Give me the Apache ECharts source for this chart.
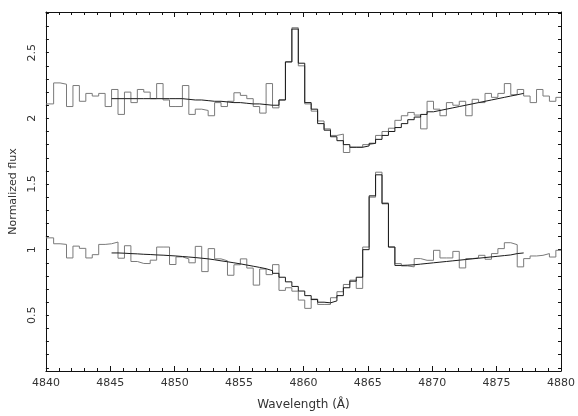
<!DOCTYPE html>
<html>
<head>
<meta charset="utf-8">
<script src="https://cdn.jsdelivr.net/npm/echarts@6/dist/echarts.min.js"></script>
<style>
html,body{margin:0;padding:0;background:#fff;}
#chart{width:578px;height:416px;}
</style>
</head>
<body>
<div id="chart"></div>
<script>
// Bin left edges (Å); last entry is the right end of the last bin
var wavelength = [4840.0,4840.6,4841.1,4841.6,4842.1,4842.6,4843.1,4843.6,4844.1,4844.6,
  4845.1,4845.6,4846.1,4846.6,4847.1,4847.6,4848.1,4848.6,4849.1,4849.6,
  4850.1,4850.6,4851.1,4851.6,4852.1,4852.6,4853.1,4853.6,4854.1,4854.6,
  4855.1,4855.6,4856.1,4856.6,4857.1,4857.6,4858.1,4858.6,4859.1,4859.6,
  4860.1,4860.6,4861.1,4861.6,4862.1,4862.6,4863.1,4863.6,4864.1,4864.6,
  4865.1,4865.6,4866.1,4866.6,4867.1,4867.6,4868.1,4868.6,4869.1,4869.6,
  4870.1,4870.6,4871.1,4871.6,4872.1,4872.6,4873.1,4873.6,4874.1,4874.6,
  4875.1,4875.6,4876.1,4876.6,4877.1,4877.6,4878.1,4878.6,4879.1,4879.6,
  4880.0];

// Upper spectrum (observed, histogram)
var upperFlux = [2.11,2.27,2.26,2.09,2.25,2.13,2.19,2.17,2.19,2.09,
  2.22,2.03,2.20,2.12,2.22,2.20,2.15,2.265,2.14,2.09,
  2.09,2.25,2.03,2.07,2.06,2.02,2.12,2.09,2.13,2.195,
  2.175,2.15,2.09,2.04,2.265,2.08,2.14,2.43,2.69,2.40,
  2.11,2.055,1.98,1.92,1.87,1.88,1.74,1.78,1.78,1.80,
  1.81,1.87,1.90,1.925,1.985,2.02,2.045,2.025,1.92,2.13,
  2.07,2.02,2.12,2.10,2.13,2.02,2.145,2.12,2.19,2.16,
  2.19,2.265,2.18,2.22,2.17,2.12,2.22,2.17,2.13,2.16];

// Lower spectrum (observed, histogram)
var lowerFlux = [1.09,1.045,1.04,0.937,1.027,1.01,0.937,0.962,1.04,1.045,
  1.058,0.935,1.03,0.91,0.895,0.894,0.92,1.02,1.02,0.887,
  0.945,0.93,0.90,1.025,0.833,1.008,0.93,0.915,0.805,0.885,
  0.93,0.86,0.73,0.853,0.81,0.886,0.69,0.71,0.684,0.616,
  0.553,0.624,0.583,0.583,0.634,0.68,0.735,0.768,0.705,1.02,
  1.40,1.59,1.356,1.02,0.894,0.876,0.869,0.932,0.919,0.919,
  0.995,0.937,0.937,0.987,0.861,0.932,0.937,0.957,0.927,0.97,
  1.008,1.053,1.038,0.869,0.932,0.952,0.957,0.97,0.944,0.995];

// Model fits, covering bins 10..73
var modelFirstBin = 10;
var upperModel = [2.15,2.15,2.15,2.15,2.15,2.15,2.15,2.15,2.15,2.15,
  2.15,2.145,2.14,2.14,2.135,2.13,2.13,2.125,2.12,2.12,
  2.115,2.11,2.11,2.105,2.10,2.10,
  2.14,2.43,2.68,2.42,2.12,
  2.07,1.96,1.91,1.86,1.83,1.80,1.78,1.78,1.79,
  1.81,1.84,1.87,1.90,1.93,1.96,1.99,2.01,2.03,2.05,
  2.06,2.07,2.08,2.09,2.10,2.11,2.12,2.13,2.14,2.15,
  2.16,2.17,2.18,2.19];
var lowerModel = [0.975,0.973,0.97,0.968,0.965,0.963,0.96,0.958,0.955,0.952,
  0.948,0.944,0.94,0.935,0.93,0.923,0.915,0.908,0.90,0.892,
  0.883,0.874,0.865,0.855,0.84,0.82,
  0.79,0.755,0.72,0.685,0.65,
  0.62,0.60,0.595,0.61,0.65,0.71,0.76,0.79,
  1.0,1.41,1.57,1.35,1.02,
  0.88,0.882,0.885,0.89,0.895,0.90,0.905,0.91,0.915,0.92,
  0.925,0.93,0.935,0.94,0.945,0.95,0.955,0.96,0.97,0.975];

// Axis ticks
var yLabelValues = [0.5,1,1.5,2,2.5];
var yTickValues = [0.1,0.2,0.3,0.4,0.5,0.6,0.7,0.8,0.9,1.0,1.1,1.2,1.3,1.4,1.5,1.6,1.7,1.8,1.9,2.0,2.1,2.2,2.3,2.4,2.5,2.6,2.7,2.8];
var xMin = 4840, xMax = 4880, xStep = 5;
var yMin = 0.076, yMax = 2.81;

function histPoints(values, firstBin) {
  var pts = [];
  for (var i = 0; i < values.length; i++) pts.push([wavelength[firstBin + i], values[i]]);
  pts.push([wavelength[firstBin + values.length], values[values.length - 1]]);
  return pts;
}

var font = 'DejaVu Sans';
var textColor = '#333';
function xAxisDef(bottom) {
  return {
    type: 'value', position: bottom ? 'bottom' : 'top',
    min: xMin, max: xMax, interval: xStep,
    axisLine: {show: true, onZero: false, lineStyle: {color: '#111', width: 1}},
    axisTick: {show: true, inside: true, length: 5, lineStyle: {color: '#111'}},
    minorTick: {show: true, splitNumber: 5, length: 3, lineStyle: {color: '#111'}},
    splitLine: {show: false}, minorSplitLine: {show: false},
    axisLabel: {show: bottom, margin: 7, color: textColor, fontSize: 11, fontFamily: font,
      formatter: function (v) { return String(v); }},
    name: bottom ? 'Wavelength (Å)' : '', nameLocation: 'middle', nameGap: 28,
    nameTextStyle: {color: textColor, fontSize: 12, fontFamily: font}
  };
}
function yAxisDef(left) {
  return {
    type: 'value', position: left ? 'left' : 'right',
    min: yMin, max: yMax,
    axisLine: {show: true, onZero: false, lineStyle: {color: '#111', width: 1}},
    axisTick: {show: true, inside: true, length: 3, customValues: yTickValues, lineStyle: {color: '#111'}},
    splitLine: {show: false},
    axisLabel: {show: left, customValues: yLabelValues, rotate: 90, margin: 8, color: textColor, fontSize: 11, fontFamily: font,
      formatter: function (v) { return String(v); }},
    name: left ? 'Normalized flux' : '', nameLocation: 'middle', nameGap: 25, nameRotate: 90,
    nameTextStyle: {color: textColor, fontSize: 11, fontFamily: font}
  };
}

var dataStyle = {color: '#7a7a7a', width: 1};
var modelStyle = {color: '#1a1a1a', width: 1};

var chart = echarts.init(document.getElementById('chart'), null, {renderer: 'canvas'});
chart.setOption({
  animation: false,
  backgroundColor: '#fff',
  grid: {left: 45, right: 13, top: 12, bottom: 43, containLabel: false},
  xAxis: [xAxisDef(true), xAxisDef(false)],
  yAxis: [yAxisDef(true), yAxisDef(false)],
  series: [
    {type: 'line', step: 'end', symbol: 'none', data: histPoints(upperFlux, 0), lineStyle: dataStyle, itemStyle: {color: dataStyle.color}, z: 2},
    {type: 'line', step: 'end', symbol: 'none', data: histPoints(lowerFlux, 0), lineStyle: dataStyle, itemStyle: {color: dataStyle.color}, z: 2},
    {type: 'line', step: 'end', symbol: 'none', data: histPoints(upperModel, modelFirstBin), lineStyle: modelStyle, itemStyle: {color: modelStyle.color}, z: 3},
    {type: 'line', step: 'end', symbol: 'none', data: histPoints(lowerModel, modelFirstBin), lineStyle: modelStyle, itemStyle: {color: modelStyle.color}, z: 3}
  ]
});
</script>
</body>
</html>
